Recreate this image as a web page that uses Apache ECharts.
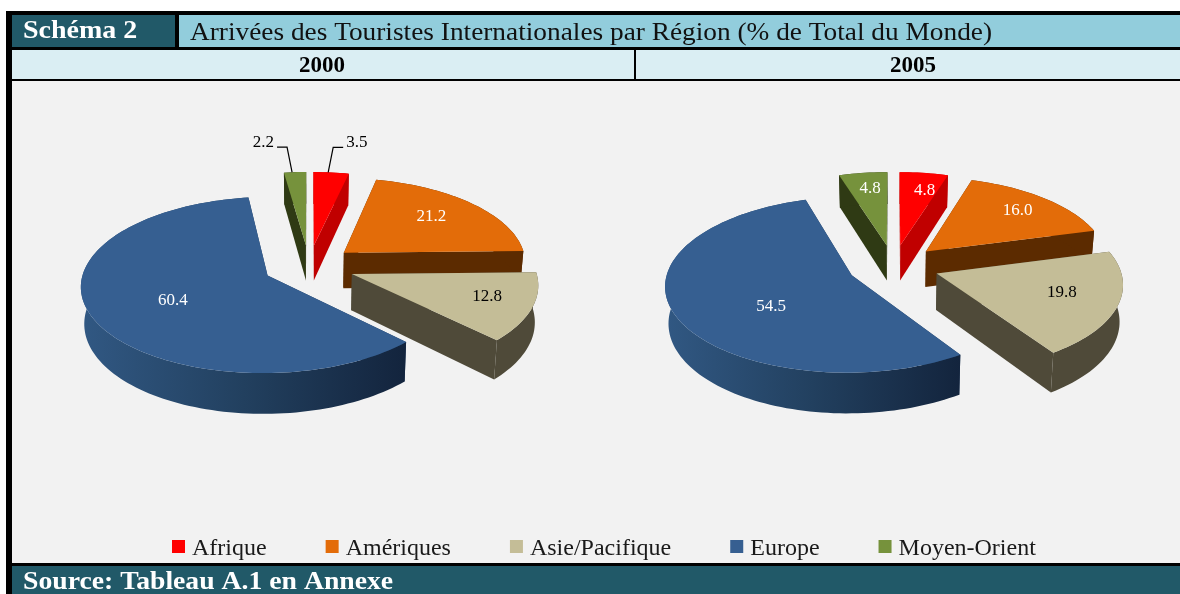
<!DOCTYPE html>
<html><head><meta charset="utf-8">
<script src="https://cdn.jsdelivr.net/npm/echarts@6/dist/echarts.min.js"></script>
<style>html,body{margin:0;padding:0;background:#fff}#c{width:1180px;height:594px}</style>
</head><body><div id="c"></div>
<script>
// ---- data ----
const years = ['2000', '2005'];
const regions = ['Afrique', 'Amériques', 'Asie/Pacifique', 'Europe', 'Moyen-Orient'];
const afrique = [3.5, 4.8];
const ameriques = [21.2, 16.0];
const asiePacifique = [12.8, 19.8];
const europe = [60.4, 54.5];
const moyenOrient = [2.2, 4.8];
const values = [afrique, ameriques, asiePacifique, europe, moyenOrient];
const labelTexts = [['3.5', '4.8'], ['21.2', '16.0'], ['12.8', '19.8'], ['60.4', '54.5'], ['2.2', '4.8']];

// ---- styling / layout ----
const topColors = ['#ff0000', '#e36c09', '#c4bd97', '#365f91', '#76923c'];
const sideColors = ['#c00000', '#5c2b00', '#4f4a39', '#1f3a5c', '#2f3a14'];
const labelColors = [['#000', '#fff'], ['#fff', '#fff'], ['#000', '#000'], ['#fff', '#fff'], ['#000', '#fff']];
const paintOrder = [2, 3, 4, 5, 1]; // z of each region: rear slices first
const labelRadius = [[0, .74], [.69, .76], [.75, .69], [.565, .535], [0, .76]]; // 0 = outside, with leader
const labelTurn = [[0, 3], [-2, 0], [-2, -3], [-3.5, -14.3], [0, .8]];          // degrees off the mid-angle
const centers = [309, 893.5], CY = 266, R = 183, K = 0.465, P = 0.105, EXPL = 0.25, DEPTH = 36, BOTTOM_X = 0.985, LEADER_SHIFT = -3;
const SERIF = '"Liberation Serif", serif';

function project(pie, X, Y, drop) {
  const s = 1 / (1 - P * Y);
  const sx = drop ? s * BOTTOM_X : s;
  return [centers[pie] + R * X * sx, CY + R * K * Y * s + (drop || 0) * s];
}
function sliceAngles(pie, idx) {
  const total = values.reduce((a, v) => a + v[pie], 0);
  let acc = 0;
  for (let i = 0; i < idx; i++) acc += values[i][pie];
  return [acc / total * 2 * Math.PI, (acc + values[idx][pie]) / total * 2 * Math.PI];
}
function renderSlice(idx) {
  return function (params, api) {
    const pie = api.value(0);
    const [a0, a1] = sliceAngles(pie, idx);
    const mid = (a0 + a1) / 2;
    const ox = EXPL * Math.sin(mid), oy = -EXPL * Math.cos(mid);
    const n = Math.max(3, Math.ceil((a1 - a0) / 0.03));
    const arc = [];
    for (let i = 0; i <= n; i++) {
      const a = a0 + (a1 - a0) * i / n;
      arc.push([ox + Math.sin(a), oy - Math.cos(a)]);
    }
    const P2 = (q, d) => project(pie, q[0], q[1], d);
    const apex = [ox, oy];
    const top = [P2(apex, 0)].concat(arc.map(q => P2(q, 0)));
    const first = arc[0], last = arc[n];
    const side = sideColors[idx];
    const wall = arc.map(q => P2(q, 0)).concat(arc.slice().reverse().map(q => P2(q, DEPTH)));
    const wallFill = idx === 3
      ? new echarts.graphic.LinearGradient(0, 0, 1, 0, [{offset: 0, color: '#315883'}, {offset: .5, color: '#22405f'}, {offset: 1, color: '#13243d'}])
      : side;
    const children = [
      {type: 'polygon', shape: {points: [P2(apex, 0), P2(first, 0), P2(first, DEPTH), P2(apex, DEPTH)]}, style: {fill: side}},
      {type: 'polygon', shape: {points: [P2(apex, 0), P2(last, 0), P2(last, DEPTH), P2(apex, DEPTH)]}, style: {fill: side}},
      {type: 'polygon', shape: {points: wall}, style: {fill: wallFill}},
      {type: 'polygon', shape: {points: top}, style: {fill: topColors[idx]}}
    ];
    const lr = labelRadius[idx][pie];
    if (lr > 0) {
      const la = mid + labelTurn[idx][pie] * Math.PI / 180;
      const p = P2([ox + lr * Math.sin(la), oy - lr * Math.cos(la)], 0);
      children.push({type: 'text', x: p[0], y: p[1], style: {text: labelTexts[idx][pie], fill: labelColors[idx][pie],
        font: '17px ' + SERIF, align: 'center', verticalAlign: 'middle'}});
    } else {
      const q = P2([ox + Math.sin(mid), oy - Math.cos(mid)], 0);
      const p = [q[0] + LEADER_SHIFT, q[1]];
      const dir = Math.sin(mid) >= 0 ? 1 : -1;
      const elbow = [p[0] + dir * 5, p[1] - 25], end = [elbow[0] + dir * 10, elbow[1]];
      children.push({type: 'polyline', shape: {points: [p, elbow, end]}, style: {fill: 'none', stroke: '#000', lineWidth: 1.2}});
      children.push({type: 'text', x: end[0] + dir * 3, y: end[1] - 5, style: {text: labelTexts[idx][pie], fill: '#000',
        font: '17px ' + SERIF, align: dir > 0 ? 'left' : 'right', verticalAlign: 'middle'}});
    }
    return {type: 'group', children};
  };
}

const rect = (x, y, w, h, fill) => ({type: 'rect', z: 0, shape: {x, y, width: w, height: h}, style: {fill}, silent: true});
const txt = (x, y, text, font, fill, align, sx) => ({type: 'text', z: 1, x, y, silent: true, scaleX: sx || 1,
  style: {text, font, fill, align: align || 'left', verticalAlign: 'middle'}});

const chart = echarts.init(document.getElementById('c'), null, {renderer: 'canvas'});
chart.setOption({
  animation: false,
  backgroundColor: '#fff',
  legend: {
    data: regions, left: 167, top: 532, orient: 'horizontal',
    icon: 'path://M0 0H13V13H0ZM0 18H0Z', // swatch sits above the text's centre line
    itemWidth: 13, itemHeight: 18, itemGap: 59, selectedMode: false,
    textStyle: {fontFamily: SERIF, fontSize: 24, color: '#1a1a1a', padding: [0, 0, 0, 2]}
  },
  graphic: [
    rect(6, 11, 1174, 70, '#000'),
    rect(6, 81, 6, 513, '#000'),
    rect(12, 81, 1168, 482, '#f2f2f2'),
    rect(6, 563, 1174, 3, '#000'),
    rect(12, 15, 163, 32, '#215968'),
    rect(179, 15, 1001, 32, '#92cddc'),
    rect(12, 50, 622, 29, '#daeef3'),
    rect(636, 50, 544, 29, '#daeef3'),
    rect(12, 566, 1168, 28, '#215968'),
    txt(23, 32, 'Schéma 2', 'bold 25px ' + SERIF, '#fff', 'left', 1.12),
    txt(190, 33, 'Arrivées des Touristes Internationales par Région (% de Total du Monde)', '25px ' + SERIF, '#111', 'left', 1.093),
    txt(322, 66, years[0], 'bold 23px ' + SERIF, '#000', 'center'),
    txt(913, 66, years[1], 'bold 23px ' + SERIF, '#000', 'center'),
    txt(23, 583, 'Source: Tableau A.1 en Annexe', 'bold 25px ' + SERIF, '#fff', 'left', 1.108)
  ],
  series: regions.map((name, idx) => ({
    type: 'custom', name, coordinateSystem: 'none', z: 2 + paintOrder[idx],
    itemStyle: {color: topColors[idx]},
    renderItem: renderSlice(idx),
    data: years.map((y, pie) => [pie, values[idx][pie]]),
    silent: true
  }))
});
</script></body></html>
